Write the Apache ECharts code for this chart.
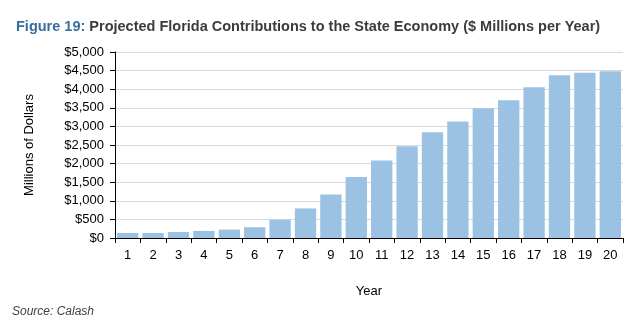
<!DOCTYPE html>
<html><head><meta charset="utf-8">
<script src="https://cdn.jsdelivr.net/npm/echarts@6/dist/echarts.min.js"></script>
<style>html,body{margin:0;padding:0;background:#fff}#c{width:644px;height:326px}</style>
</head><body><div id="c"></div>
<script>
var years = ['1','2','3','4','5','6','7','8','9','10','11','12','13','14','15','16','17','18','19','20'];
var contributions = [135,135,160,190,225,290,490,795,1170,1640,2085,2465,2845,3135,3490,3705,4050,4375,4445,4485];
var yTicks = [0,500,1000,1500,2000,2500,3000,3500,4000,4500,5000];

var chart = echarts.init(document.getElementById('c'));
var FONT = '"Liberation Sans", Arial, sans-serif';
chart.setOption({
  animation: false,
  textStyle: {fontFamily: FONT},
  title: {
    text: '{b|Figure 19:} Projected Florida Contributions to the State Economy ($ Millions per Year)',
    left: 11, top: 14,
    textStyle: {fontFamily: FONT, fontSize: 14.5, fontWeight: 'bold', color: '#3C3C3C',
      rich: {b: {fontFamily: FONT, fontSize: 14.5, fontWeight: 'bold', color: '#3A6E9E'}}}
  },
  graphic: [{
    type: 'text', left: 12, top: 306,
    style: {text: 'Source: Calash', font: 'italic 12px "Liberation Sans", Arial, sans-serif', fill: '#404040'}
  }],
  grid: {left: 115, right: 21, top: 52, bottom: 88},
  xAxis: {
    type: 'category', data: years,
    name: 'Year', nameLocation: 'middle', nameGap: 47,
    nameTextStyle: {fontSize: 13, color: '#000', fontFamily: FONT},
    axisLine: {lineStyle: {color: '#000'}},
    axisTick: {show: true, alignWithLabel: false, length: 5, lineStyle: {color: '#000'}},
    axisLabel: {fontSize: 13, color: '#000', margin: 11, fontFamily: FONT}
  },
  yAxis: {
    type: 'value', min: yTicks[0], max: yTicks[yTicks.length-1], interval: 500,
    name: 'Millions of Dollars', nameLocation: 'middle', nameGap: 79, nameRotate: 90,
    nameTextStyle: {fontSize: 13, color: '#000', fontFamily: FONT},
    axisLine: {show: true, lineStyle: {color: '#000'}},
    axisTick: {show: true, length: 5, lineStyle: {color: '#000'}},
    axisLabel: {fontSize: 13, color: '#000', margin: 11, fontFamily: FONT,
      formatter: function(v){ return '$' + v.toLocaleString('en-US'); }},
    splitLine: {lineStyle: {color: '#D9D9D9'}}
  },
  series: [{
    type: 'bar', data: contributions, barCategoryGap: '16%',
    itemStyle: {color: '#9BC2E3'}
  }]
});
</script></body></html>
